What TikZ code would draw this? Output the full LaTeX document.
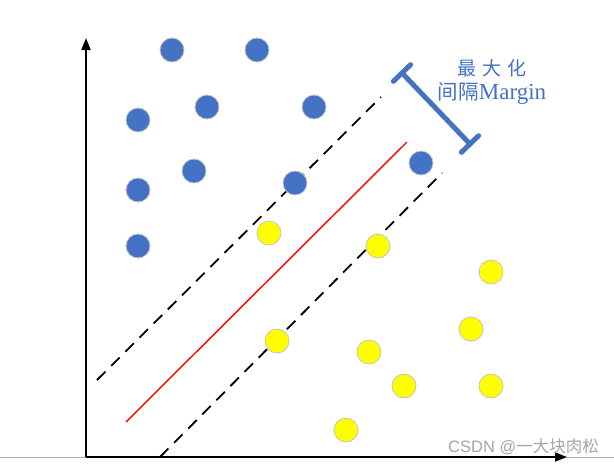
\documentclass[tikz,border=0pt]{standalone}
\usepackage{fontspec}
\setmainfont{Liberation Serif}
\newfontfamily\cjk{Noto Sans CJK SC}
\newfontfamily\wmsans{Liberation Sans}
\usetikzlibrary{arrows.meta}
\definecolor{ptblue}{HTML}{4472C4}
\definecolor{ptyel}{HTML}{FFFF00}
\definecolor{ptedge}{HTML}{C4C4C4}
\begin{document}
\begin{tikzpicture}[x=1pt,y=-1pt,
  bpt/.style={circle,fill=ptblue,draw=ptedge,line width=0.8pt,minimum size=24pt,inner sep=0pt},
  ypt/.style={circle,fill=ptyel,draw=ptedge,line width=0.8pt,minimum size=24pt,inner sep=0pt},
  axisline/.style={line width=2pt,-{Triangle[length=12pt,width=9pt]}},
  marginline/.style={line width=1.8pt,dash pattern=on 12pt off 8pt},
  bracket/.style={ptblue,line width=5pt,line cap=round}
]
\useasboundingbox (0,0) rectangle (614,467);
\fill[white] (0,0) rectangle (614,467);
% base gray line
\coordinate (gl) at (0,457);
\coordinate (gr) at (614,457);
\draw[gray!60,line width=0.8pt] (gl) -- (gr);
% axes
\coordinate (o) at (86,457);
\coordinate (ytip) at (86,38);
\coordinate (xtip) at (567,457);
\draw[axisline] (o) -- (ytip);
\draw[axisline] (o) -- (xtip);
% separating lines
\coordinate (u1) at (97,380);
\coordinate (u2) at (381,97);
\coordinate (l1) at (160,457);
\coordinate (l2) at (442,173);
\coordinate (r1) at (126,422);
\coordinate (r2) at (407,142);
\draw[marginline] (u1) -- (u2);
\draw[marginline] (l1) -- (l2);
\draw[red,line width=1.4pt] (r1) -- (r2);
% blue points
\node[bpt] (b1) at (172,50) {};
\node[bpt] (b2) at (257,50) {};
\node[bpt] (b3) at (138,120) {};
\node[bpt] (b4) at (207,107) {};
\node[bpt] (b5) at (314,107) {};
\node[bpt] (b6) at (138,190) {};
\node[bpt] (b7) at (194,171) {};
\node[bpt] (b8) at (295,183) {};
\node[bpt] (b9) at (421,163) {};
\node[bpt] (b10) at (138,246) {};
% yellow points
\node[ypt] (y1) at (269,233) {};
\node[ypt] (y2) at (378,246) {};
\node[ypt] (y3) at (491,272) {};
\node[ypt] (y4) at (471,329) {};
\node[ypt] (y5) at (277,341) {};
\node[ypt] (y6) at (369,352) {};
\node[ypt] (y7) at (404,386) {};
\node[ypt] (y8) at (491,386) {};
\node[ypt] (y9) at (346,430) {};
% margin bracket
\coordinate (mt) at (402,73);
\coordinate (mb) at (470,144);
\coordinate (mt1) at (410.6,64.7);
\coordinate (mt2) at (393.4,81.3);
\coordinate (mb1) at (478.6,135.7);
\coordinate (mb2) at (461.4,152.3);
\draw[bracket] (mt) -- (mb);
\draw[bracket] (mt1) -- (mt2);
\draw[bracket] (mb1) -- (mb2);
% label
\node[text=ptblue,align=center,inner sep=0pt] (lab) at (492,82)
  {{\cjk\fontsize{19}{22}\selectfont 最\kern6pt 大\kern6pt 化}\\[4pt]{\cjk\fontsize{20.5}{22}\selectfont 间隔}{\fontsize{23}{22}\selectfont Margin}};
% watermark
\node[text=gray!70,inner sep=0pt,anchor=east] (wm) at (599,447) {{\wmsans\fontsize{16.5}{18}\selectfont CSDN @}{\cjk\fontsize{16.5}{18}\selectfont 一大块肉松}};
\end{tikzpicture}
\end{document}
